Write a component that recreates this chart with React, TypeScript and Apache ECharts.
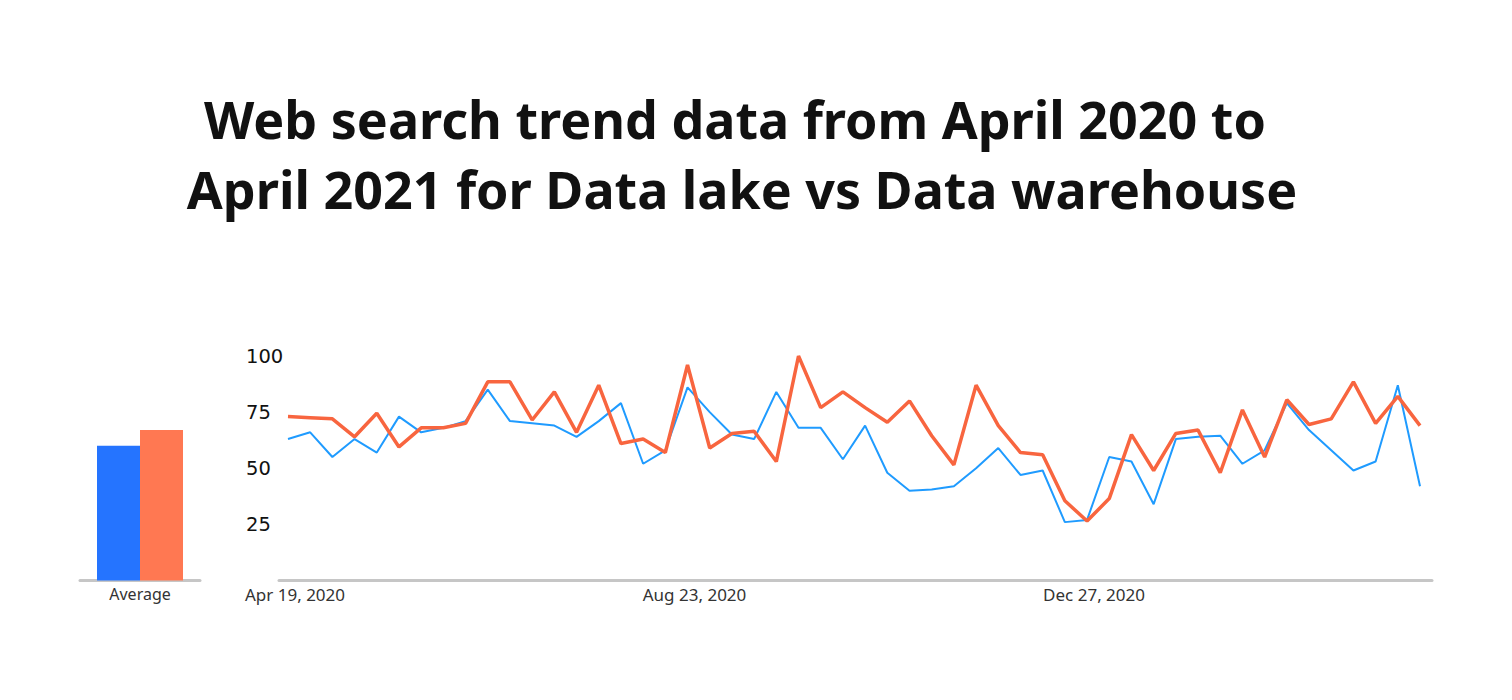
import React, { useEffect, useRef } from "react";
import * as echarts from "echarts";

const titleLines = [
  "Web search trend data from April 2020 to",
  "April 2021 for Data lake vs Data warehouse",
];

const dataLake = [
  63, 66, 55, 63, 57, 73, 66, 68, 71, 85, 71, 70, 69, 64, 71, 79, 52, 58, 86, 75,
  65, 63, 84, 68, 68, 54, 69, 48, 40, 40.5, 42, 50, 59, 47, 49, 26, 27, 55, 53, 34,
  63, 64, 64.5, 52, 58, 79, 67, 58, 49, 53, 87, 42,
];

const dataWarehouse = [
  73, 72.5, 72, 64, 74.5, 59.5, 68, 68, 70, 88.5, 88.5, 71.5, 84, 66, 87, 61, 63, 57, 96, 59,
  65.5, 66.5, 53, 100, 77, 84, 77, 70.5, 80, 64.5, 51.5, 87, 69, 57, 56, 35.5, 26.5, 36.5, 65, 49,
  65.5, 67, 48, 76, 55, 80.5, 69.5, 72, 88.5, 70, 82, 69,
];

const averageCategories = ["Average"];
const averageLake = [60];
const averageWarehouse = [67];

const tickIndices = [0, 18, 36];
const tickLabels = ["Apr 19, 2020", "Aug 23, 2020", "Dec 27, 2020"];

const yTicks = [25, 50, 75, 100];

const BLUE_LINE = "#1f9bff";
const ORANGE_LINE = "#f8653f";
const BLUE_BAR = "#2574ff";
const ORANGE_BAR = "#ff7852";

export default function App() {
  const ref = useRef<HTMLDivElement>(null);

  useEffect(() => {
    if (!ref.current) return;
    const chart = echarts.init(ref.current, null, { renderer: "svg" });
    const gridTop = 356;
    const gridBottom = 119.5;
    const titleStyle = {
      fontFamily: "Noto Sans",
      fontWeight: "bold",
      fontSize: 52,
      lineHeight: 70,
      fill: "#111111",
      align: "center",
      verticalAlign: "top",
    };
    const option: any = {
      animation: false,
      backgroundColor: "#ffffff",
      graphic: [
        {
          type: "text",
          x: 735,
          y: 83,
          style: { ...titleStyle, text: titleLines[0] },
        },
        {
          type: "text",
          x: 742,
          y: 153,
          style: { ...titleStyle, text: titleLines[1] },
        },
      ],
      grid: [
        { left: 80, width: 120, top: gridTop, bottom: gridBottom },
        { left: 279, right: 80, top: gridTop, bottom: gridBottom },
      ],
      xAxis: [
        {
          type: "category",
          gridIndex: 0,
          data: averageCategories,
          axisLine: { lineStyle: { color: "#c6c6c6", width: 3 } },
          axisTick: { show: false },
          axisLabel: {
            color: "#333333",
            fontFamily: "Noto Sans",
            fontSize: 16,
            margin: 5,
          },
        },
        {
          type: "value",
          gridIndex: 1,
          min: -0.405,
          max: 51.54,
          splitLine: { show: false },
          axisLine: { show: true, lineStyle: { color: "#c6c6c6", width: 3 } },
          axisTick: { show: false },
          axisLabel: {
            customValues: tickIndices,
            formatter: (v: number) => {
              const k = tickIndices.indexOf(Math.round(v));
              return k >= 0 ? tickLabels[k] : "";
            },
            color: "#333333",
            fontFamily: "Noto Sans",
            fontSize: 17,
            margin: 5,
            padding: [0, 0, 0, 14],
          },
        },
      ],
      yAxis: [
        {
          type: "value",
          gridIndex: 0,
          min: 0,
          max: 100,
          interval: 25,
          show: false,
        },
        {
          type: "value",
          gridIndex: 1,
          min: 0,
          max: 100,
          interval: 25,
          splitLine: { show: false },
          axisLine: { show: false },
          axisTick: { show: false },
          axisLabel: {
            showMinLabel: false,
            formatter: (v: number) => (yTicks.indexOf(v) >= 0 ? String(v) : ""),
            align: "left",
            margin: 33,
            color: "#111111",
            fontFamily: "DejaVu Sans",
            fontSize: 19.5,
          },
        },
      ],
      series: [
        {
          name: "Data lake",
          type: "bar",
          xAxisIndex: 0,
          yAxisIndex: 0,
          data: averageLake,
          barWidth: 43,
          barGap: "0%",
          itemStyle: { color: BLUE_BAR },
        },
        {
          name: "Data warehouse",
          type: "bar",
          xAxisIndex: 0,
          yAxisIndex: 0,
          data: averageWarehouse,
          barWidth: 43,
          barGap: "0%",
          itemStyle: { color: ORANGE_BAR },
        },
        {
          name: "Data lake",
          type: "line",
          xAxisIndex: 1,
          yAxisIndex: 1,
          data: dataLake.map((v, i) => [i, v]),
          showSymbol: false,
          clip: false,
          lineStyle: { color: BLUE_LINE, width: 2 },
          itemStyle: { color: BLUE_LINE },
        },
        {
          name: "Data warehouse",
          type: "line",
          xAxisIndex: 1,
          yAxisIndex: 1,
          data: dataWarehouse.map((v, i) => [i, v]),
          showSymbol: false,
          clip: false,
          lineStyle: { color: ORANGE_LINE, width: 3.5 },
          itemStyle: { color: ORANGE_LINE },
        },
      ],
    };
    chart.setOption(option);
    return () => chart.dispose();
  }, []);

  return (
    <div
      ref={ref}
      style={{ position: "fixed", left: 0, top: 0, width: 1512, height: 700 }}
    />
  );
}
